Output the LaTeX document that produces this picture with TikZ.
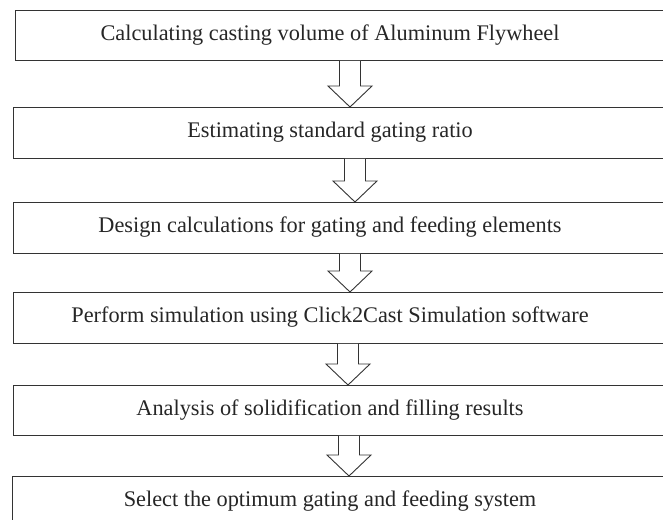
\documentclass[tikz,border=0pt]{standalone}
\usepackage{fontspec}
\setmainfont{Liberation Serif}
\usetikzlibrary{calc}
\tikzset{
  stagebox/.style={draw=black!80, line width=0.9pt, fill=none, inner sep=0pt, anchor=north west, minimum width=680pt, minimum height=50pt},
  stagetext/.style={inner sep=0pt, font=\fontsize{22.3}{26}\selectfont, text=black!85},
  blockarrow/.style={draw=black!80, line width=0.9pt, fill=white, line join=miter}
}
% hollow downward block arrow between two boxes at a given x position
\newcommand{\flowarrow}[3]{%
  \draw[blockarrow] let \p1=(#1.south), \p2=(#2.north) in
    ({#3pt-10.5pt},\y1) -- ({#3pt-10.5pt},{\y2+21pt}) -- ({#3pt-22pt},{\y2+21pt})
    -- ({#3pt},\y2) -- ({#3pt+22pt},{\y2+21pt}) -- ({#3pt+10.5pt},{\y2+21pt})
    -- ({#3pt+10.5pt},\y1);%
}
\begin{document}
\begin{tikzpicture}[x=1pt,y=-1pt]
  \useasboundingbox (0,0) rectangle (663,519);
  \fill[white] (0,0) rectangle (663,519);
  \begin{scope}
    \clip (0,0) rectangle (663,519);
    \node[stagebox] (b1) at (15,10) {};
    \node[stagebox, minimum height=51pt] (b2) at (13,107) {};
    \node[stagebox, minimum height=51pt] (b3) at (13,202) {};
    \node[stagebox, minimum height=51pt] (b4) at (13,292) {};
    \node[stagebox] (b5) at (13,385) {};
    \node[stagebox] (b6) at (12,476) {};

    \flowarrow{b1}{b2}{350}
    \flowarrow{b2}{b3}{355}
    \flowarrow{b3}{b4}{350}
    \flowarrow{b4}{b5}{348}
    \flowarrow{b5}{b6}{349}
  \end{scope}

  \node[stagetext] (t1) at (330,35) {Calculating casting volume of Aluminum Flywheel};
  \node[stagetext] (t2) at (330,132.5) {Estimating standard gating ratio};
  \node[stagetext] (t3) at (330,227.5) {Design calculations for gating and feeding elements};
  \node[stagetext] (t4) at (330,317.5) {Perform simulation using Click2Cast Simulation software};
  \node[stagetext] (t5) at (330,410) {Analysis of solidification and filling results};
  \node[stagetext] (t6) at (330,501) {Select the optimum gating and feeding system};
\end{tikzpicture}
\end{document}
